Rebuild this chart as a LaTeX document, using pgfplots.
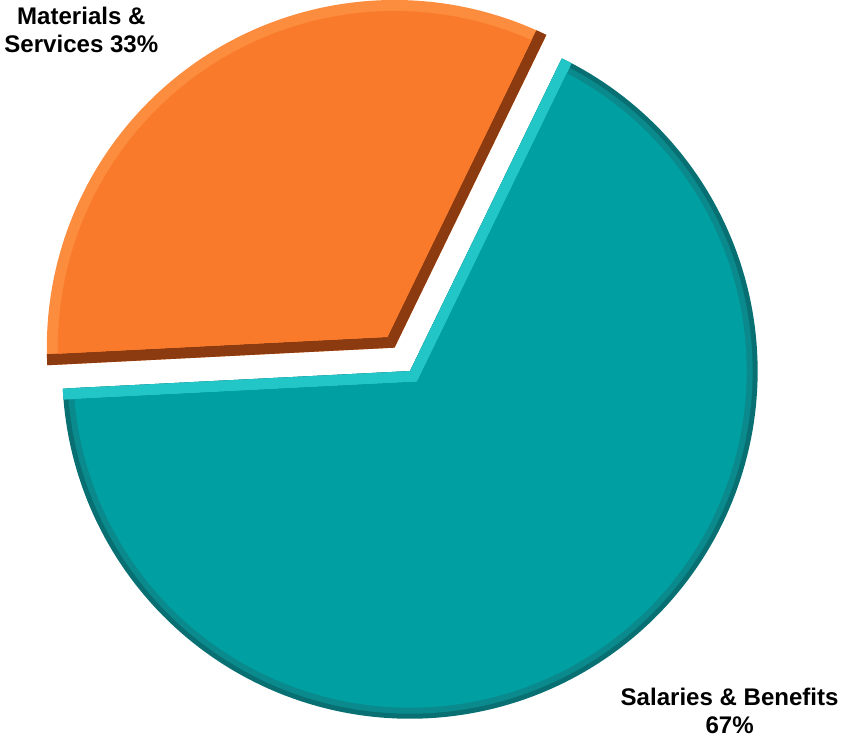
\documentclass[border=0pt]{standalone}
\usepackage{pgfplots}
\pgfplotsset{compat=1.18}
\usepackage{pgfplotstable}
\usepackage{fontspec}
\setmainfont{Liberation Sans}
\definecolor{tealbase}{RGB}{0,160,162}
\definecolor{tealdark}{RGB}{8,112,114}
\definecolor{tealmid}{RGB}{10,138,140}
\definecolor{teallight}{RGB}{34,198,198}
\definecolor{orbase}{RGB}{249,122,42}
\definecolor{ordark}{RGB}{140,58,16}
\definecolor{orlight}{RGB}{252,140,62}

\pgfplotstableread{
label value
Materials 33
Salaries 67
}\piedata

\begin{document}
\pgfplotstablegetelem{0}{value}\of\piedata \edef\vM{\pgfplotsretval}%
\pgfplotstablegetelem{1}{value}\of\piedata \edef\vS{\pgfplotsretval}%
\pgfmathsetmacro\R{347}%
\pgfmathsetmacro\Rm{\R-5}%
\pgfmathsetmacro\dw{11}%
\pgfmathsetmacro\Ri{\R-\dw}%
\pgfmathsetmacro\St{64.1}%
\pgfmathsetmacro\dd{asin(\dw/\R)}%
\pgfmathsetmacro\ddi{asin(\dw/\Ri)}%
% teal sector (Salaries)
\pgfmathsetmacro\tA{\St-3.6*\vS}%
\pgfmathsetmacro\tB{\St}%
\pgfmathsetmacro\tcx{413}%
\pgfmathsetmacro\tcy{364}%
\pgfmathsetmacro\tM{(\tA+\tB)/2}%
\pgfmathsetmacro\tap{\dw/sin((\tB-\tA)/2)}%
\pgfmathsetmacro\tax{\tcx+\tap*cos(\tM)}%
\pgfmathsetmacro\tay{\tcy+\tap*sin(\tM)}%
\pgfmathsetmacro\tAi{\tA+\ddi}%
\pgfmathsetmacro\tBi{\tB-\ddi}%
\pgfmathsetmacro\tPax{\tcx+\R*cos(\tA)}%
\pgfmathsetmacro\tPay{\tcy+\R*sin(\tA)}%
\pgfmathsetmacro\tQax{\tcx+\R*cos(\tA+\dd)}%
\pgfmathsetmacro\tQay{\tcy+\R*sin(\tA+\dd)}%
\pgfmathsetmacro\tPbx{\tcx+\R*cos(\tB)}%
\pgfmathsetmacro\tPby{\tcy+\R*sin(\tB)}%
\pgfmathsetmacro\tQbx{\tcx+\R*cos(\tB-\dd)}%
\pgfmathsetmacro\tQby{\tcy+\R*sin(\tB-\dd)}%
% orange sector (Materials), exploded
\pgfmathsetmacro\oA{\St}%
\pgfmathsetmacro\oB{\St+3.6*\vM}%
\pgfmathsetmacro\oM{(\oA+\oB)/2}%
\pgfmathsetmacro\ocx{\tcx+28*cos(\oM)}%
\pgfmathsetmacro\ocy{\tcy+28*sin(\oM)}%
\pgfmathsetmacro\oap{\dw/sin((\oB-\oA)/2)}%
\pgfmathsetmacro\oax{\ocx+\oap*cos(\oM)}%
\pgfmathsetmacro\oay{\ocy+\oap*sin(\oM)}%
\pgfmathsetmacro\oAi{\oA+\ddi}%
\pgfmathsetmacro\oBi{\oB-\ddi}%
\pgfmathsetmacro\oPax{\ocx+\R*cos(\oA)}%
\pgfmathsetmacro\oPay{\ocy+\R*sin(\oA)}%
\pgfmathsetmacro\oQax{\ocx+\R*cos(\oA+\dd)}%
\pgfmathsetmacro\oQay{\ocy+\R*sin(\oA+\dd)}%
\pgfmathsetmacro\oPbx{\ocx+\R*cos(\oB)}%
\pgfmathsetmacro\oPby{\ocy+\R*sin(\oB)}%
\pgfmathsetmacro\oQbx{\ocx+\R*cos(\oB-\dd)}%
\pgfmathsetmacro\oQby{\ocy+\R*sin(\oB-\dd)}%
\begin{tikzpicture}
\begin{axis}[
  x=0.75pt, y=0.75pt,
  xmin=0, xmax=843, ymin=0, ymax=742,
  hide axis, clip=false,
]
% Salaries & Benefits
\addplot[draw=none, fill=tealdark, domain=\tA:\tB, samples=180]
  ({\tcx+\R*cos(x)},{\tcy+\R*sin(x)}) -- (axis cs:\tcx,\tcy) -- cycle;
\addplot[draw=none, fill=tealmid, domain=\tA:\tB, samples=180]
  ({\tcx+\Rm*cos(x)},{\tcy+\Rm*sin(x)}) -- (axis cs:\tcx,\tcy) -- cycle;
\fill[teallight] (axis cs:\tcx,\tcy) -- (axis cs:\tPax,\tPay) -- (axis cs:\tQax,\tQay) -- (axis cs:\tax,\tay) -- cycle;
\fill[teallight] (axis cs:\tcx,\tcy) -- (axis cs:\tPbx,\tPby) -- (axis cs:\tQbx,\tQby) -- (axis cs:\tax,\tay) -- cycle;
\addplot[draw=none, fill=tealbase, domain=\tAi:\tBi, samples=180]
  ({\tcx+\Ri*cos(x)},{\tcy+\Ri*sin(x)}) -- (axis cs:\tax,\tay) -- cycle;
% Materials & Services
\addplot[draw=none, fill=orlight, domain=\oA:\oB, samples=120]
  ({\ocx+\R*cos(x)},{\ocy+\R*sin(x)}) -- (axis cs:\ocx,\ocy) -- cycle;
\fill[ordark] (axis cs:\ocx,\ocy) -- (axis cs:\oPax,\oPay) -- (axis cs:\oQax,\oQay) -- (axis cs:\oax,\oay) -- cycle;
\fill[ordark] (axis cs:\ocx,\ocy) -- (axis cs:\oPbx,\oPby) -- (axis cs:\oQbx,\oQby) -- (axis cs:\oax,\oay) -- cycle;
\addplot[draw=none, fill=orbase, domain=\oAi:\oBi, samples=120]
  ({\ocx+\Ri*cos(x)},{\ocy+\Ri*sin(x)}) -- (axis cs:\oax,\oay) -- cycle;
% labels
\node[align=center, font=\bfseries\fontsize{18}{21}\selectfont] at (axis cs:85,704) {Materials \&\\Services \vM\%};
\node[align=center, font=\bfseries\fontsize{18}{21}\selectfont] at (axis cs:732,25) {Salaries \& Benefits\\\vS\%};
\end{axis}
\end{tikzpicture}
\end{document}
